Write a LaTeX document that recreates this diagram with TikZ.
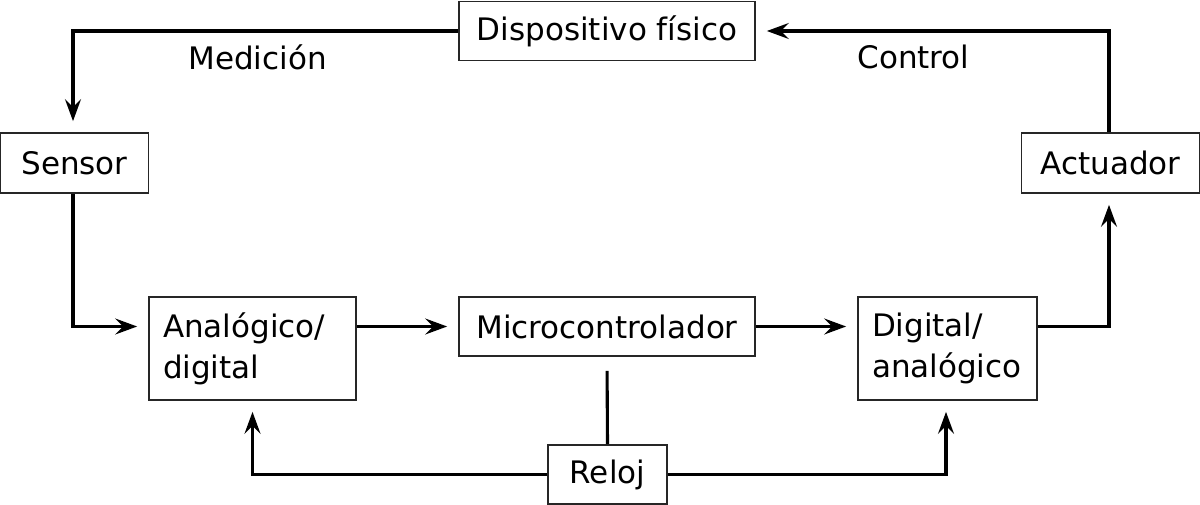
\documentclass[tikz,border=0pt]{standalone}
\usepackage{fontspec}
\setmainfont{DejaVu Sans}
\usetikzlibrary{arrows.meta}
\begin{document}
\begin{tikzpicture}[x=1pt,y=-1pt,
  box/.style={draw=black!85, line width=1.7pt, inner sep=0pt, font=\fontsize{31}{41}\selectfont},
  twobox/.style={box, align=left, inner xsep=14pt, minimum height=103pt},
  arr/.style={line width=3.1pt, -{Stealth[length=22pt,width=16pt,inset=8pt]}, shorten >=11pt},
  plain/.style={line width=3.1pt},
  lbl/.style={font=\fontsize{31}{41}\selectfont, anchor=base, inner sep=0pt}]
\useasboundingbox (0,0) rectangle (1200,505);
\node[box, minimum width=296pt, minimum height=59pt] (disp) at (607,31) {Dispositivo físico};
\node[box, minimum width=148pt, minimum height=60pt] (sensor) at (74.5,163) {Sensor};
\node[box, minimum width=178pt, minimum height=60pt] (act) at (1110.5,163) {Actuador};
\node[twobox, text width=179pt] (ad) at (252.5,348.5) {Analógico/\\digital};
\node[box, minimum width=296pt, minimum height=59pt] (micro) at (607,326.5) {Microcontrolador};
\node[twobox, text width=151pt] (da) at (947.5,348.5) {Digital/\\analógico};
\node[box, minimum width=119pt, minimum height=59pt] (reloj) at (607.5,474.5) {Reloj};
\node[lbl] (med) at (257.5,70) {Medición};
\node[lbl] (ctl) at (913.5,69) {Control};
\draw[arr] (disp.west) -| ([xshift=-1.5pt]sensor.north);
\draw[arr] ([xshift=-1.5pt]sensor.south) |- (ad.west |- micro.west);
\draw[arr] (ad.east |- micro.west) -- (micro.west);
\draw[arr] (micro.east) -- (da.west |- micro.east);
\draw[arr] (da.east |- micro.east) -| ([xshift=-1.5pt]act.south);
\draw[arr] ([xshift=-1.5pt]act.north) |- (disp.east);
\draw[plain, shorten >=14pt] (reloj.north) -- (micro.south);
\draw[arr] (reloj.west) -| (ad.south);
\draw[arr] (reloj.east) -| ([xshift=-1.5pt]da.south);
\end{tikzpicture}
\end{document}
